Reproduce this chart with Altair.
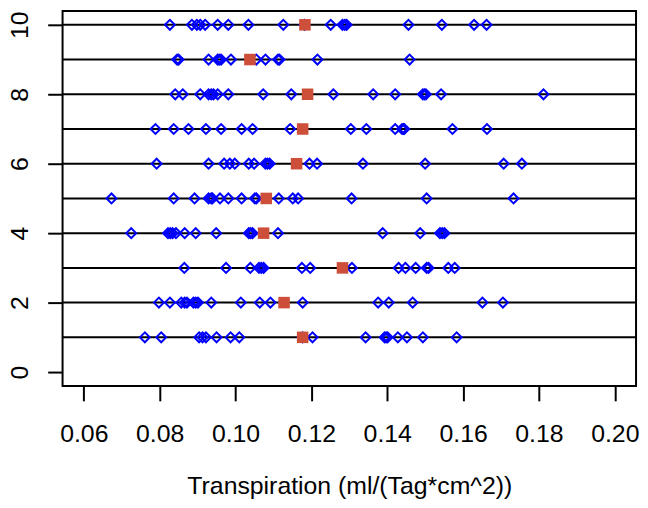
import altair as alt
import pandas as pd

# Transpiration values (ml/(Tag*cm^2)) per group 1..10
row1 = [0.0761, 0.0804, 0.0904, 0.0913, 0.0922, 0.0950, 0.0987, 0.1010, 0.1177, 0.1203,
        0.1343, 0.1393, 0.1397, 0.1401, 0.1428, 0.1452, 0.1494, 0.1583]
row2 = [0.0798, 0.0827, 0.0857, 0.0866, 0.0872, 0.0889, 0.0895, 0.0901, 0.0936, 0.1014,
        0.1064, 0.1092, 0.1177, 0.1376, 0.1404, 0.1467, 0.1651, 0.1705]
row3 = [0.0865, 0.0975, 0.1039, 0.1062, 0.1068, 0.1074, 0.1175, 0.1197, 0.1307, 0.1430,
        0.1448, 0.1475, 0.1504, 0.1509, 0.1561, 0.1578]
row4 = [0.0725, 0.0822, 0.0828, 0.0834, 0.0843, 0.0866, 0.0895, 0.0949, 0.1035, 0.1040,
        0.1045, 0.1112, 0.1388, 0.1487, 0.1539, 0.1545, 0.1551]
row5 = [0.0673, 0.0837, 0.0892, 0.0929, 0.0936, 0.0939, 0.0959, 0.0981, 0.1016, 0.1051,
        0.1055, 0.1114, 0.1151, 0.1165, 0.1306, 0.1504, 0.1733]
row6 = [0.0792, 0.0929, 0.0970, 0.0985, 0.0998, 0.1035, 0.1049, 0.1079, 0.1084, 0.1090,
        0.1195, 0.1215, 0.1336, 0.1500, 0.1707, 0.1755]
row7 = [0.0789, 0.0837, 0.0876, 0.0922, 0.0962, 0.1016, 0.1045, 0.1144, 0.1304, 0.1345,
        0.1421, 0.1439, 0.1443, 0.1445, 0.1572, 0.1663]
row8 = [0.0841, 0.0861, 0.0907, 0.0929, 0.0936, 0.0942, 0.0953, 0.0981, 0.1073, 0.1147,
        0.1258, 0.1363, 0.1421, 0.1494, 0.1498, 0.1502, 0.1542, 0.1812]
row9 = [0.0846, 0.0850, 0.0929, 0.0953, 0.0957, 0.0962, 0.0988, 0.1055, 0.1079, 0.1112,
        0.1116, 0.1216, 0.1459]
row10 = [0.0827, 0.0885, 0.0898, 0.0907, 0.0920, 0.0953, 0.0981, 0.1034, 0.1126, 0.1182,
         0.1251, 0.1282, 0.1288, 0.1293, 0.1456, 0.1544, 0.1629, 0.1662]
rows = [row1, row2, row3, row4, row5, row6, row7, row8, row9, row10]
groups = [1, 2, 3, 4, 5, 6, 7, 8, 9, 10]
means = [0.1177, 0.1128, 0.1282, 0.1074, 0.1081, 0.1161, 0.1177, 0.1190, 0.1038, 0.1183]
x_ticks = [0.06, 0.08, 0.10, 0.12, 0.14, 0.16, 0.18, 0.20]
y_ticks = [0, 2, 4, 6, 8, 10]

pts = pd.DataFrame([{"g": g, "v": v} for g, r in zip(groups, rows) for v in r])
mdf = pd.DataFrame({"g": groups, "v": means})
ldf = pd.DataFrame({"g": groups})

W, H = 578, 378
FONT = "Liberation Sans"

xscale = alt.Scale(domain=[0.0544, 0.2056], nice=False, zero=False)
yscale = alt.Scale(domain=[-0.4, 10.4], nice=False, zero=False)

xaxis = alt.Axis(values=x_ticks, format=".2f", title="Transpiration (ml/(Tag*cm^2))",
                 grid=False, domain=False, tickSize=15, tickWidth=2, tickColor="black",
                 labelFontSize=25, labelFont=FONT, labelColor="black", labelPadding=21,
                 labelFlush=False, labelOverlap=False,
                 titleFontSize=25, titleFont=FONT, titleFontWeight="normal", titleColor="black",
                 titleBaseline="alphabetic", titleY=108)
yaxis = alt.Axis(values=y_ticks, title=None, grid=False, domain=False, tickSize=15,
                 tickWidth=2, tickColor="black", labelFontSize=25, labelFont=FONT,
                 labelColor="black", labelAngle=270, labelAlign="center",
                 labelBaseline="alphabetic", labelPadding=20, labelFlush=False,
                 labelOverlap=False)

lines = alt.Chart(ldf).mark_rule(color="black", strokeWidth=2).encode(
    y=alt.Y("g:Q", scale=yscale, axis=yaxis),
    x=alt.value(0), x2=alt.value(W),
)

diamonds = alt.Chart(pts).mark_point(shape="diamond", filled=False, color="#0000FF",
                                     size=100, strokeWidth=2, opacity=1).encode(
    x=alt.X("v:Q", scale=xscale, axis=xaxis),
    y=alt.Y("g:Q", scale=yscale, axis=yaxis),
)

squares = alt.Chart(mdf).mark_point(shape="square", filled=True, color="#CD4F39",
                                    size=135, opacity=1).encode(
    x=alt.X("v:Q", scale=xscale, axis=xaxis),
    y=alt.Y("g:Q", scale=yscale, axis=yaxis),
)

chart = alt.layer(lines, diamonds, squares).properties(
    width=W, height=H,
    autosize=alt.AutoSizeParams(type="none"),
    padding={"left": 55, "top": 1, "right": 4, "bottom": 113},
).configure(background="white").configure_view(stroke="black", strokeWidth=2)

chart.save("out.html", embed_options={"renderer": "svg", "actions": False})
